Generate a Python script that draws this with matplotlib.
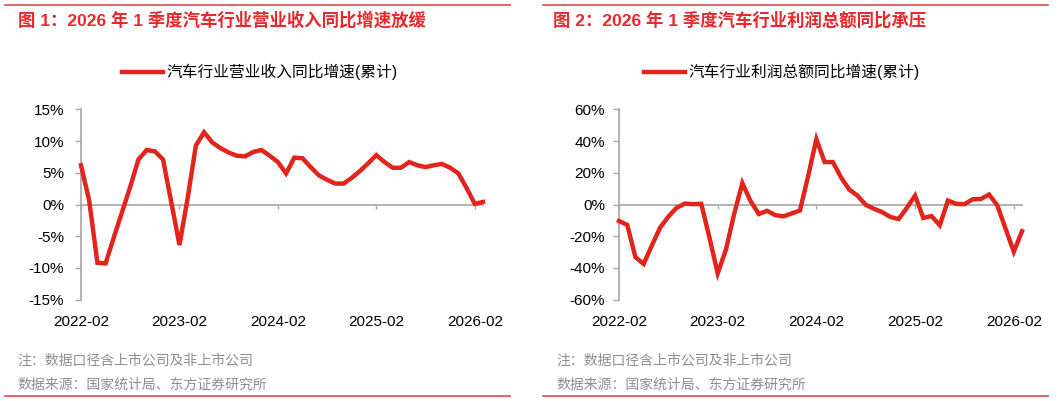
import matplotlib
matplotlib.use("Agg")
import matplotlib.pyplot as plt
import numpy as np
import pandas as pd
from matplotlib.lines import Line2D
from matplotlib.ticker import FuncFormatter, MultipleLocator

plt.rcParams["font.family"] = ["Liberation Sans", "Noto Sans CJK SC"]

# 2022-02 .. 2026-03, monthly (cumulative yoy, %)
months = pd.date_range("2022-02-01", "2026-03-01", freq="MS").strftime("%Y-%m").tolist()

revenue_yoy = [
    6.2, 0.6, -9.2, -9.3, -5.2, -1.2, 2.8, 7.1, 8.6, 8.4, 7.1,
    0.4, -6.4, 1.0, 9.3, 11.4, 9.8, 8.9, 8.2, 7.7, 7.6,
    8.3, 8.6, 7.7, 6.7, 4.9, 7.4, 7.3, 5.9, 4.6, 3.9,
    3.3, 3.3, 4.2, 5.3, 6.5, 7.8, 6.7, 5.8, 5.8, 6.7,
    6.2, 5.9, 6.2, 6.4, 5.8, 4.9, 2.6, 0.1, 0.4,
]
profit_yoy = [
    -10.4, -12.9, -33.3, -37.5, -25.8, -14.6, -7.7, -2.1, 0.6, 0.2, 0.4,
    -21.0, -43.5, -28.5, -6.0, 13.5, 2.1, -6.0, -4.0, -6.7, -7.5,
    -5.6, -3.8, 18.0, 41.3, 26.8, 26.8, 17.1, 9.4, 5.6, -0.2,
    -2.7, -4.8, -7.9, -9.2, -2.1, 5.6, -8.5, -7.3, -13.1, 2.5,
    0.4, 0.2, 3.3, 3.5, 6.3, -0.6, -15.2, -29.8, -16.9,
]

titles = [
    "图 1：2026 年 1 季度汽车行业营业收入同比增速放缓",
    "图 2：2026 年 1 季度汽车行业利润总额同比承压",
]
legend_labels = ["汽车行业营业收入同比增速(累计)", "汽车行业利润总额同比增速(累计)"]
note_text = "注：数据口径含上市公司及非上市公司"
source_text = "数据来源：国家统计局、东方证券研究所"
tick_labels = ["2022-02", "2023-02", "2024-02", "2025-02", "2026-02"]

RED = "#e3241c"
TITLE_RED = "#e8282d"
RULE_RED = "#e2474a"
GREY = "#a6a6a6"
NOTE_GREY = "#8e8e8e"

W, H = 1061, 401
fig = plt.figure(figsize=(W / 100, H / 100), dpi=100)


def fx(px):
    return px / W


def fy(py):
    return 1 - py / H


panels = [
    dict(values=revenue_yoy, left=81, right=483, ylim=(-15, 15), step=5, pad=8,
         title_x=18, legend_cx=260, note_x=17, rule=(5, 510)),
    dict(values=profit_yoy, left=619, right=1022, ylim=(-60, 60), step=20, pad=6,
         title_x=553, legend_cx=782, note_x=556, rule=(543, 1048)),
]

for p, title, label in zip(panels, titles, legend_labels):
    ax = fig.add_axes([fx(p["left"]), fy(299.5), fx(p["right"] - p["left"]), fy(109.5) - fy(299.5)])
    x = np.arange(len(p["values"]))
    ax.plot(x, p["values"], color=RED, linewidth=3.2, solid_joinstyle="miter", label=label,
            zorder=3, clip_on=False)

    ax.set_xlim(0, len(x) - 1)
    ax.set_ylim(*p["ylim"])
    ax.yaxis.set_major_locator(MultipleLocator(p["step"]))
    ax.yaxis.set_major_formatter(FuncFormatter(lambda v, _: f"{v:.0f}%"))

    for side in ("top", "right"):
        ax.spines[side].set_visible(False)
    ax.spines["left"].set_color(GREY)
    ax.spines["left"].set_linewidth(1.2)
    ax.spines["bottom"].set_position(("data", 0))
    ax.spines["bottom"].set_color(GREY)
    ax.spines["bottom"].set_linewidth(1.2)

    year_pos = [months.index(m) for m in tick_labels]
    ax.set_xticks(year_pos)
    ax.tick_params(axis="x", direction="out", length=3, width=1, color=GREY, labelbottom=False)
    ax.tick_params(axis="y", direction="out", length=4, width=1, color=GREY,
                   labelsize=11, pad=p["pad"], labelcolor="black")

    sec = ax.secondary_xaxis("bottom")
    sec.set_xticks(year_pos)
    sec.set_xticklabels(tick_labels)
    sec.tick_params(length=0, pad=11, labelsize=11, labelcolor="black")
    sec.spines["bottom"].set_visible(False)

    ax.legend(loc="center", bbox_to_anchor=(fx(p["legend_cx"]), fy(72)), bbox_transform=fig.transFigure,
              frameon=False, fontsize=11.3, handlelength=2.6, handletextpad=0.25, borderpad=0)

    fig.text(fx(p["title_x"]), fy(20), title, color=TITLE_RED, fontsize=12.5, fontweight="bold",
             ha="left", va="center")
    fig.text(fx(p["note_x"]), fy(361), note_text, color=NOTE_GREY, fontsize=10, ha="left", va="center")
    fig.text(fx(p["note_x"]), fy(385), source_text, color=NOTE_GREY, fontsize=10, ha="left", va="center")

    x0, x1 = p["rule"]
    for py in (5, 396):
        fig.add_artist(Line2D([fx(x0), fx(x1)], [fy(py), fy(py)], color=RULE_RED, linewidth=1.2,
                              transform=fig.transFigure))

fig.savefig("out.png", dpi=100)
